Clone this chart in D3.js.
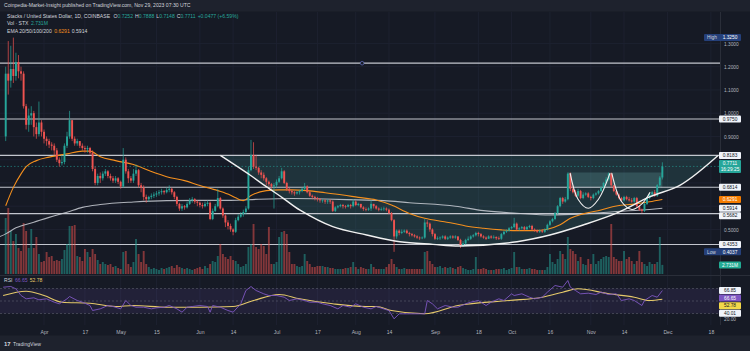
<!DOCTYPE html>
<html>
<head>
<meta charset="utf-8">
<script src="https://cdn.jsdelivr.net/npm/d3@7"></script>
<style>
  html, body { margin: 0; padding: 0; background: #161a25; }
  svg { display: block; font-family: "Liberation Sans", Arial, sans-serif; }
</style>
</head>
<body>
<svg id="chart" width="750" height="351"></svg>
<script>
// STX/USD daily, COINBASE — values.

const START = Date.UTC(2023, 2, 17);   // first visible candle
const DAY = 86400000;
const firstOpen = 0.90;

const closes = [
  1.17, 1.14, 1.19, 1.16, 1.22, 1.18, 1.17, 1.03, 0.95, 0.99,
  1.00, 0.94, 0.91, 0.96, 0.92, 0.89, 0.88, 0.865, 0.86, 0.84,
  0.80, 0.785, 0.79, 0.86, 0.90, 0.97, 0.89, 0.87, 0.88, 0.86,
  0.85, 0.845, 0.85, 0.83, 0.76, 0.70, 0.73, 0.72, 0.74, 0.75,
  0.73, 0.72, 0.71, 0.72, 0.705, 0.685, 0.80, 0.75, 0.72, 0.71,
  0.74, 0.755, 0.69, 0.68, 0.64, 0.63, 0.64, 0.645, 0.65, 0.655,
  0.66, 0.665, 0.66, 0.67, 0.675, 0.66, 0.64, 0.61, 0.59, 0.60,
  0.595, 0.61, 0.625, 0.63, 0.62, 0.615, 0.605, 0.60, 0.61, 0.615,
  0.545, 0.58, 0.60, 0.635, 0.59, 0.56, 0.53, 0.515, 0.50, 0.49,
  0.54, 0.555, 0.565, 0.575, 0.59, 0.755, 0.82, 0.77, 0.765, 0.745,
  0.735, 0.72, 0.705, 0.695, 0.685, 0.69, 0.705, 0.72, 0.75, 0.70,
  0.675, 0.665, 0.66, 0.655, 0.66, 0.665, 0.675, 0.685, 0.66, 0.645,
  0.64, 0.635, 0.63, 0.625, 0.625, 0.62, 0.625, 0.62, 0.58, 0.595,
  0.60, 0.605, 0.60, 0.598, 0.605, 0.60, 0.62, 0.605, 0.61, 0.595,
  0.588, 0.585, 0.59, 0.61, 0.60, 0.59, 0.585, 0.588, 0.59, 0.585,
  0.57, 0.54, 0.47, 0.495, 0.485, 0.49, 0.495, 0.485, 0.48, 0.475,
  0.47, 0.465, 0.462, 0.465, 0.53, 0.525, 0.50, 0.48, 0.46, 0.462,
  0.465, 0.47, 0.46, 0.465, 0.47, 0.465, 0.47, 0.455, 0.43, 0.44,
  0.455, 0.46, 0.47, 0.475, 0.485, 0.48, 0.47, 0.465, 0.46, 0.47,
  0.465, 0.468, 0.462, 0.46, 0.48, 0.49, 0.495, 0.505, 0.51, 0.525,
  0.50, 0.505, 0.51, 0.50, 0.51, 0.515, 0.50, 0.495, 0.49, 0.495,
  0.49, 0.50, 0.52, 0.535, 0.545, 0.57, 0.60, 0.635, 0.62, 0.63,
  0.74, 0.675, 0.66, 0.645, 0.665, 0.635, 0.65, 0.655, 0.64, 0.635,
  0.65, 0.655, 0.665, 0.68, 0.70, 0.715, 0.74, 0.69, 0.665, 0.65,
  0.635, 0.625, 0.64, 0.63, 0.625, 0.62, 0.635, 0.60, 0.585, 0.58,
  0.61, 0.635, 0.65, 0.66, 0.645, 0.69, 0.7234, 0.7711
];

const highs = [
  1.20, 1.31, 1.29, 1.325, 1.26, 1.25, 1.20, 1.18, 1.04, 1.02,
  1.03, 1.01, 0.96, 1.05, 0.97, 0.93, 0.90, 0.89, 0.875, 0.87,
  0.85, 0.81, 0.82, 0.87, 0.92, 1.01, 0.97, 0.90, 0.89, 0.88,
  0.87, 0.86, 0.86, 0.855, 0.84, 0.77, 0.74, 0.745, 0.75, 0.76,
  0.755, 0.74, 0.73, 0.73, 0.725, 0.71, 0.85, 0.81, 0.76, 0.73,
  0.76, 0.78, 0.76, 0.70, 0.69, 0.65, 0.645, 0.655, 0.66, 0.665,
  0.67, 0.675, 0.67, 0.68, 0.69, 0.68, 0.665, 0.645, 0.615, 0.61,
  0.605, 0.62, 0.635, 0.64, 0.635, 0.625, 0.62, 0.615, 0.62, 0.625,
  0.62, 0.59, 0.61, 0.675, 0.64, 0.595, 0.565, 0.54, 0.525, 0.505,
  0.55, 0.565, 0.575, 0.585, 0.60, 0.77, 0.885, 0.875, 0.82, 0.77,
  0.755, 0.745, 0.725, 0.71, 0.70, 0.70, 0.715, 0.73, 0.765, 0.755,
  0.705, 0.68, 0.67, 0.665, 0.665, 0.67, 0.68, 0.70, 0.69, 0.665,
  0.65, 0.645, 0.64, 0.635, 0.63, 0.63, 0.63, 0.63, 0.625, 0.60,
  0.605, 0.61, 0.61, 0.605, 0.61, 0.61, 0.63, 0.625, 0.615, 0.61,
  0.60, 0.595, 0.595, 0.625, 0.61, 0.605, 0.595, 0.595, 0.598, 0.595,
  0.59, 0.575, 0.545, 0.50, 0.50, 0.50, 0.50, 0.50, 0.49, 0.485,
  0.48, 0.475, 0.47, 0.47, 0.545, 0.54, 0.53, 0.505, 0.485, 0.47,
  0.47, 0.475, 0.475, 0.47, 0.475, 0.475, 0.475, 0.47, 0.46, 0.45,
  0.46, 0.47, 0.475, 0.48, 0.49, 0.49, 0.485, 0.475, 0.47, 0.475,
  0.475, 0.475, 0.47, 0.47, 0.485, 0.495, 0.50, 0.51, 0.515, 0.55,
  0.53, 0.51, 0.515, 0.515, 0.515, 0.52, 0.52, 0.505, 0.50, 0.50,
  0.50, 0.505, 0.525, 0.54, 0.55, 0.575, 0.605, 0.64, 0.64, 0.64,
  0.745, 0.745, 0.69, 0.67, 0.675, 0.67, 0.66, 0.66, 0.66, 0.645,
  0.655, 0.66, 0.67, 0.685, 0.705, 0.725, 0.745, 0.745, 0.69, 0.67,
  0.655, 0.64, 0.645, 0.645, 0.64, 0.635, 0.64, 0.64, 0.605, 0.59,
  0.615, 0.64, 0.655, 0.665, 0.67, 0.695, 0.73, 0.7888
];

const lows = [
  0.88, 1.08, 1.11, 1.13, 1.14, 1.15, 1.14, 1.02, 0.93, 0.92,
  0.95, 0.90, 0.89, 0.90, 0.90, 0.87, 0.86, 0.85, 0.84, 0.82,
  0.79, 0.77, 0.775, 0.78, 0.85, 0.89, 0.88, 0.86, 0.86, 0.85,
  0.84, 0.83, 0.83, 0.82, 0.75, 0.69, 0.69, 0.70, 0.71, 0.73,
  0.72, 0.71, 0.70, 0.70, 0.695, 0.675, 0.68, 0.74, 0.70, 0.70,
  0.70, 0.73, 0.68, 0.66, 0.625, 0.615, 0.62, 0.63, 0.635, 0.64,
  0.645, 0.65, 0.65, 0.655, 0.66, 0.65, 0.63, 0.60, 0.58, 0.58,
  0.585, 0.59, 0.605, 0.615, 0.61, 0.60, 0.595, 0.59, 0.595, 0.60,
  0.54, 0.54, 0.575, 0.595, 0.585, 0.55, 0.51, 0.50, 0.49, 0.475,
  0.485, 0.535, 0.55, 0.555, 0.565, 0.585, 0.75, 0.76, 0.755, 0.735,
  0.72, 0.71, 0.69, 0.685, 0.675, 0.59, 0.68, 0.70, 0.715, 0.695,
  0.665, 0.655, 0.65, 0.645, 0.65, 0.65, 0.66, 0.67, 0.655, 0.64,
  0.63, 0.625, 0.62, 0.615, 0.615, 0.61, 0.61, 0.61, 0.575, 0.575,
  0.59, 0.595, 0.59, 0.59, 0.595, 0.59, 0.595, 0.60, 0.60, 0.59,
  0.58, 0.578, 0.58, 0.58, 0.59, 0.585, 0.578, 0.58, 0.58, 0.578,
  0.565, 0.535, 0.4037, 0.46, 0.475, 0.48, 0.485, 0.48, 0.47, 0.47,
  0.465, 0.46, 0.455, 0.458, 0.46, 0.51, 0.49, 0.47, 0.455, 0.455,
  0.455, 0.46, 0.455, 0.455, 0.46, 0.46, 0.46, 0.45, 0.42, 0.425,
  0.435, 0.45, 0.455, 0.465, 0.47, 0.47, 0.465, 0.46, 0.455, 0.46,
  0.46, 0.46, 0.455, 0.455, 0.455, 0.475, 0.485, 0.49, 0.50, 0.505,
  0.495, 0.495, 0.50, 0.495, 0.50, 0.505, 0.495, 0.49, 0.485, 0.485,
  0.485, 0.485, 0.495, 0.515, 0.53, 0.54, 0.565, 0.595, 0.61, 0.615,
  0.625, 0.665, 0.655, 0.64, 0.64, 0.63, 0.63, 0.645, 0.635, 0.625,
  0.63, 0.645, 0.65, 0.66, 0.675, 0.695, 0.71, 0.68, 0.66, 0.645,
  0.63, 0.62, 0.62, 0.625, 0.62, 0.615, 0.615, 0.595, 0.58, 0.57,
  0.575, 0.605, 0.63, 0.645, 0.64, 0.64, 0.68, 0.7148
];

// volume, millions of STX
const volumes = [
  16.8, 19.8, 12.9, 9.9, 12.0, 7.8, 6.9, 15.3, 12.9, 7.8,
  13.5, 7.8, 11.1, 6.0, 3.6, 3.9, 6.6, 5.1, 5.4, 3.9,
  4.2, 3.9, 4.5, 7.2, 9.0, 14.4, 14.4, 14.7, 5.4, 5.1,
  3.9, 7.5, 6.6, 5.1, 7.5, 6.0, 4.2, 3.0, 3.6, 3.0,
  2.7, 3.0, 2.1, 2.4, 1.8, 1.5, 6.6, 6.9, 3.0, 2.1,
  3.6, 10.5, 6.0, 3.6, 6.9, 3.0, 2.1, 1.5, 1.8, 1.5,
  1.2, 1.8, 1.5, 1.8, 2.1, 2.4, 1.8, 2.7, 2.1, 1.8,
  1.5, 1.8, 1.5, 1.2, 1.5, 1.8, 2.1, 1.5, 2.4, 1.8,
  3.0, 3.9, 3.6, 5.4, 9.0, 6.0, 5.1, 4.5, 5.4, 4.2,
  3.9, 3.0, 2.1, 2.4, 3.0, 8.1, 9.0, 15.0, 8.1, 7.5,
  9.0, 8.4, 6.0, 14.1, 3.0, 3.0, 3.6, 11.1, 12.6, 12.9,
  12.0, 6.6, 3.0, 3.0, 2.4, 2.1, 2.4, 6.0, 3.9, 3.0,
  2.1, 2.1, 2.4, 2.4, 2.4, 2.1, 2.1, 1.8, 1.8, 1.5,
  1.5, 1.5, 1.5, 1.8, 1.8, 2.1, 3.6, 2.1, 1.5, 2.1,
  1.8, 1.5, 1.5, 3.0, 2.1, 1.5, 1.5, 1.5, 1.5, 2.1,
  3.0, 4.5, 3.0, 2.1, 1.5, 1.5, 1.8, 1.5, 1.5, 1.5,
  1.5, 1.5, 1.5, 1.5, 6.6, 6.9, 3.9, 3.0, 2.1, 2.1,
  2.4, 1.8, 2.1, 1.8, 2.1, 1.8, 1.5, 2.1, 2.4, 1.8,
  1.5, 1.2, 1.2, 1.5, 5.1, 1.5, 1.5, 1.8, 1.5, 1.2,
  1.2, 1.2, 1.5, 1.5, 1.5, 1.8, 1.2, 1.5, 1.8, 6.6,
  2.1, 2.1, 1.5, 1.5, 1.5, 1.8, 1.5, 1.5, 1.2, 1.2,
  1.2, 1.2, 2.1, 6.0, 3.6, 3.0, 4.5, 6.9, 6.0, 4.5,
  11.1, 7.5, 6.9, 6.0, 3.9, 5.1, 3.0, 2.7, 4.5, 3.0,
  6.0, 3.0, 3.9, 4.5, 5.1, 5.4, 5.1, 15.0, 5.1, 4.5,
  3.9, 3.9, 6.9, 4.5, 5.1, 3.9, 3.0, 3.9, 6.9, 3.6,
  3.0, 2.4, 3.6, 3.0, 3.0, 3.6, 11.1, 2.731
];

// EMA lines (day index from START, price)
const ema50Days = [0, 3, 6, 8, 12, 17, 24, 30, 33, 37, 43, 50, 57, 63, 70, 76, 83, 88, 90, 93, 96, 102, 107, 112, 118, 125, 132, 138, 145, 151, 158, 164, 171, 175, 180, 187, 194, 200, 207, 212, 217, 221, 226, 233, 239, 246, 252, 257];
const ema50Vals = [0.602, 0.681, 0.739, 0.770, 0.796, 0.811, 0.825, 0.837, 0.837, 0.813, 0.796, 0.779, 0.749, 0.727, 0.710, 0.689, 0.667, 0.647, 0.636, 0.624, 0.646, 0.667, 0.670, 0.670, 0.667, 0.658, 0.648, 0.638, 0.627, 0.605, 0.569, 0.548, 0.534, 0.527, 0.515, 0.505, 0.498, 0.495, 0.495, 0.501, 0.520, 0.548, 0.567, 0.584, 0.601, 0.609, 0.619, 0.629];
const ema200Days = [-3, 0, 4, 11, 17, 24, 30, 37, 50, 63, 76, 88, 99, 112, 125, 138, 148, 158, 176, 187, 200, 213, 226, 239, 252, 257];
const ema200Vals = [0.466, 0.481, 0.507, 0.531, 0.552, 0.574, 0.595, 0.607, 0.618, 0.624, 0.625, 0.625, 0.630, 0.633, 0.631, 0.627, 0.624, 0.615, 0.600, 0.581, 0.570, 0.562, 0.567, 0.577, 0.586, 0.591];

// RSI(14) and its moving average
const rsiDays = [-1, 2, 4, 6, 8, 11, 13, 16, 19, 21, 24, 25, 28, 30, 33, 34, 37, 40, 42, 45, 47, 49, 51, 54, 57, 59, 62, 64, 67, 69, 71, 73, 76, 79, 80, 81, 84, 87, 89, 92, 94, 96, 98, 101, 103, 106, 109, 111, 114, 117, 119, 122, 124, 127, 130, 132, 135, 137, 140, 143, 145, 150, 152, 154, 158, 162, 164, 165, 167, 169, 172, 175, 177, 180, 182, 185, 188, 190, 193, 195, 198, 199, 202, 205, 207, 210, 212, 215, 218, 220, 221, 223, 225, 228, 231, 233, 236, 239, 241, 244, 246, 249, 250, 253, 255, 257];
const rsiVals = [72.1, 73.2, 69.5, 58.8, 53.5, 55.1, 51.9, 53.5, 48.1, 45.5, 53.5, 57.2, 50.8, 48.1, 42.8, 34.8, 37.5, 42.8, 41.2, 37.5, 50.8, 42.8, 40.1, 40.1, 37.5, 39.1, 40.1, 42.8, 37.5, 32.1, 40.1, 41.2, 42.8, 41.2, 32.1, 42.8, 40.1, 34.8, 32.1, 45.5, 66.8, 73.2, 66.8, 61.5, 58.8, 58.8, 56.1, 50.8, 53.5, 50.8, 48.1, 48.1, 45.5, 42.8, 37.5, 42.8, 40.1, 45.5, 40.1, 37.5, 41.2, 34.8, 21.5, 29.5, 29.5, 29.5, 29.5, 50.8, 45.5, 37.5, 42.8, 40.1, 40.1, 45.5, 48.1, 50.8, 42.8, 48.1, 53.5, 50.8, 61.5, 58.8, 61.5, 56.1, 53.5, 56.1, 64.1, 74.8, 72.1, 82.8, 72.1, 66.8, 61.5, 62.5, 60.4, 64.1, 60.4, 61.5, 50.8, 53.5, 50.8, 42.8, 50.8, 58.8, 56.1, 66.65];
const rsiMaDays = [-1, 8, 15, 22, 33, 43, 50, 63, 76, 89, 97, 107, 115, 128, 141, 145, 151, 164, 177, 197, 210, 218, 224, 236, 246, 252, 257];
const rsiMaVals = [58.8, 65.7, 58.8, 48.1, 46.4, 41.2, 42.8, 40.1, 40.1, 41.2, 50.8, 60.4, 53.5, 45.5, 41.2, 41.2, 34.8, 29.5, 42.8, 50.8, 56.1, 64.1, 69.5, 61.5, 56.1, 50.8, 52.78];

// drawings
const hLevels = [1.215, 0.975, 0.8183, 0.6814, 0.5682, 0.4353];
const anchorDay = 139.5;                // handle dot on the upper level
const cupDays = [84, 95.6, 102, 108.5, 115.2, 128, 141.3, 154.3, 167.2, 177.8, 200.1, 213, 226, 239.3, 252.2, 264, 278.8];
const cupVals = [0.8183, 0.734, 0.684, 0.635, 0.583, 0.512, 0.476, 0.447, 0.436, 0.429, 0.447, 0.476, 0.519, 0.571, 0.641, 0.691, 0.8183];
const hsBox = { d0: 220, d1: 257, top: 0.745, bottom: 0.68 };
const leftArcDays = [220.9, 224, 228, 232, 236.5];
const leftArcVals = [0.742, 0.63, 0.591, 0.63, 0.742];
const rightArcDays = [237.2, 241, 245.1, 249, 252.2];
const rightArcVals = [0.742, 0.62, 0.586, 0.61, 0.66];

const priceTicks = [1.3, 1.2, 1.1, 1.0, 0.9, 0.8, 0.7, 0.6, 0.5];
const dateTicks = [[3, 1], [3, 17], [4, 1], [4, 15], [5, 1], [5, 14], [6, 1], [6, 17], [7, 1], [7, 14], [8, 1], [8, 18], [9, 1], [9, 16], [10, 1], [10, 14], [11, 1], [11, 18]];
const monthNames = ['Jan', 'Feb', 'Mar', 'Apr', 'May', 'Jun', 'Jul', 'Aug', 'Sep', 'Oct', 'Nov', 'Dec'];

// ---------------------------------------------------------------------------
const W = 750, H = 351;
const PANE_R = 720;
const MAIN = { top: 12, bottom: 275 };
const RSI = { top: 277, bottom: 325 };
const UP = '#26a69a', DOWN = '#ef5350';
const BG = '#161a25';
const FS = 5.1;

const dayDate = d => new Date(START + d * DAY);
const x = d3.scaleUtc().domain([dayDate(0), dayDate(276)]).range([5.7, 710.9]);
const y = d3.scaleLinear().domain([0.4353, 0.975]).range([244.5, 119.0]);
const yVol = d3.scaleLinear().domain([0, 20]).range([274, 207.3]);
const yRsi = d3.scaleLinear().domain([30, 70]).range([313.5, 288.5]);

const candles = closes.map((c, i) => ({
  date: dayDate(i),
  open: i ? closes[i - 1] : firstOpen,
  high: highs[i], low: lows[i], close: c, vol: volumes[i]
}));

const svg = d3.select('#chart');
svg.append('rect').attr('width', W).attr('height', H).attr('fill', BG);

const defs = svg.append('defs');
defs.append('clipPath').attr('id', 'clipMain')
  .append('rect').attr('x', 0).attr('y', MAIN.top).attr('width', PANE_R).attr('height', MAIN.bottom - MAIN.top);
defs.append('clipPath').attr('id', 'clipRsi')
  .append('rect').attr('x', 0).attr('y', RSI.top).attr('width', PANE_R).attr('height', RSI.bottom - RSI.top);

// grid
const gridDates = dateTicks.map(([m, d]) => new Date(Date.UTC(2023, m, d)));
svg.append('g').selectAll('line').data(gridDates).join('line')
  .attr('x1', d => x(d)).attr('x2', d => x(d))
  .attr('y1', MAIN.top).attr('y2', RSI.bottom)
  .attr('stroke', '#1d2130').attr('stroke-width', 1);
svg.append('g').selectAll('line').data(priceTicks).join('line')
  .attr('x1', 0).attr('x2', PANE_R)
  .attr('y1', d => y(d)).attr('y2', d => y(d))
  .attr('stroke', '#1d2130').attr('stroke-width', 1);

const main = svg.append('g').attr('clip-path', 'url(#clipMain)');

// shaded region above the cup, under the 0.8183 level
const cupPts = cupDays.map((d, i) => [x(dayDate(d)), y(cupVals[i])]);
const cupLine = d3.line().curve(d3.curveCatmullRom.alpha(0.5));
main.append('path')
  .attr('d', cupLine(cupPts) + `L${cupPts[0][0]},${y(0.8183)}Z`)
  .attr('fill', 'rgba(64,140,140,0.22)');
main.append('rect')
  .attr('x', x(dayDate(hsBox.d0))).attr('width', x(dayDate(hsBox.d1)) - x(dayDate(hsBox.d0)))
  .attr('y', y(hsBox.top)).attr('height', y(hsBox.bottom) - y(hsBox.top))
  .attr('fill', 'rgba(120,190,185,0.22)');

// horizontal levels
main.append('g').selectAll('line').data(hLevels).join('line')
  .attr('x1', 0).attr('x2', PANE_R)
  .attr('y1', d => y(d)).attr('y2', d => y(d))
  .attr('stroke', '#c3c6ce').attr('stroke-width', 1.2);
main.append('circle')
  .attr('cx', x(dayDate(anchorDay))).attr('cy', y(hLevels[0])).attr('r', 1.8)
  .attr('fill', BG).attr('stroke', '#5d6ab0').attr('stroke-width', 0.8);

// current price line
main.append('line')
  .attr('x1', 0).attr('x2', PANE_R)
  .attr('y1', y(0.7711)).attr('y2', y(0.7711))
  .attr('stroke', UP).attr('stroke-opacity', 0.7).attr('stroke-width', 0.8)
  .attr('stroke-dasharray', '1.5,2');

// volume
main.append('g').selectAll('rect').data(candles).join('rect')
  .attr('x', d => x(d.date) - 0.95).attr('width', 1.9)
  .attr('y', d => yVol(d.vol)).attr('height', d => yVol(0) - yVol(d.vol))
  .attr('fill', d => d.close >= d.open ? UP : DOWN).attr('fill-opacity', 0.5);

// EMAs
const emaLine = d3.line().curve(d3.curveMonotoneX);
main.append('path')
  .attr('d', emaLine(ema200Days.map((d, i) => [x(dayDate(d)), y(ema200Vals[i])])))
  .attr('fill', 'none').attr('stroke', '#c9ccd4').attr('stroke-opacity', 0.85).attr('stroke-width', 1.1);
main.append('path')
  .attr('d', emaLine(ema50Days.map((d, i) => [x(dayDate(d)), y(ema50Vals[i])])))
  .attr('fill', 'none').attr('stroke', '#f5901e').attr('stroke-width', 1.1);

// candles
const cg = main.append('g');
cg.selectAll('line').data(candles).join('line')
  .attr('x1', d => x(d.date)).attr('x2', d => x(d.date))
  .attr('y1', d => y(d.high)).attr('y2', d => y(d.low))
  .attr('stroke', d => d.close >= d.open ? UP : DOWN).attr('stroke-width', 0.7);
cg.selectAll('rect').data(candles).join('rect')
  .attr('x', d => x(d.date) - 0.95).attr('width', 1.9)
  .attr('y', d => y(Math.max(d.open, d.close)))
  .attr('height', d => Math.max(0.7, Math.abs(y(d.open) - y(d.close))))
  .attr('fill', d => d.close >= d.open ? UP : DOWN);

// pattern drawings
main.append('path').attr('d', cupLine(cupPts))
  .attr('fill', 'none').attr('stroke', '#f0f0f0').attr('stroke-width', 1.4);
const arcLine = d3.line().curve(d3.curveCatmullRom.alpha(0.5));
main.append('path')
  .attr('d', arcLine(leftArcDays.map((d, i) => [x(dayDate(d)), y(leftArcVals[i])])))
  .attr('fill', 'none').attr('stroke', '#f0f0f0').attr('stroke-width', 1.1);
main.append('path')
  .attr('d', arcLine(rightArcDays.map((d, i) => [x(dayDate(d)), y(rightArcVals[i])])))
  .attr('fill', 'none').attr('stroke', '#f0f0f0').attr('stroke-width', 1.1);

// RSI pane
svg.append('line').attr('x1', 0).attr('x2', W).attr('y1', MAIN.bottom + 0.5).attr('y2', MAIN.bottom + 0.5)
  .attr('stroke', '#2a2e39').attr('stroke-width', 1);
const rsiG = svg.append('g').attr('clip-path', 'url(#clipRsi)');
rsiG.append('rect').attr('x', 0).attr('width', PANE_R)
  .attr('y', yRsi(70)).attr('height', yRsi(30) - yRsi(70))
  .attr('fill', 'rgba(126,87,194,0.12)');
rsiG.selectAll('line.band').data([70, 50, 30]).join('line').attr('class', 'band')
  .attr('x1', 0).attr('x2', PANE_R).attr('y1', d => yRsi(d)).attr('y2', d => yRsi(d))
  .attr('stroke', '#787b86').attr('stroke-opacity', 0.6).attr('stroke-width', 0.7)
  .attr('stroke-dasharray', '2,2');
rsiG.append('path')
  .attr('d', d3.line().curve(d3.curveMonotoneX)(rsiMaDays.map((d, i) => [x(dayDate(d)), yRsi(rsiMaVals[i])])))
  .attr('fill', 'none').attr('stroke', '#e5c96a').attr('stroke-width', 1.1);
rsiG.append('path')
  .attr('d', d3.line()(rsiDays.map((d, i) => [x(dayDate(d)), yRsi(rsiVals[i])])))
  .attr('fill', 'none').attr('stroke', '#7e57c2').attr('stroke-width', 0.9);

// time axis
const xAxis = d3.axisBottom(x).tickValues(gridDates).tickSize(0)
  .tickFormat(d => d.getUTCDate() === 1 ? monthNames[d.getUTCMonth()] : String(d.getUTCDate()));
const gx = svg.append('g').attr('transform', `translate(0,${RSI.bottom + 1})`).call(xAxis);
gx.select('.domain').remove();
gx.selectAll('text').attr('fill', '#b2b5be').attr('font-size', FS).attr('dy', '0.9em');

// scale labels (boxed) — TradingView shifts stacked labels so they do not overlap
function place(items, gap) {
  items.sort((a, b) => a.y - b.y);
  for (let i = 1; i < items.length; i++) {
    const need = items[i - 1].y + (items[i - 1].h + items[i].h) / 2 + gap;
    if (items[i].y < need) items[i].y = need;
  }
  return items;
}
const priceLabels = place([
  { y: y(0.975), h: 7, text: '0.9750', bg: '#f0f3fa', fg: '#131722' },
  { y: y(0.8183), h: 7, text: '0.8183', bg: '#f0f3fa', fg: '#131722' },
  { y: y(0.7711), h: 13, text: ['0.7711', '16:29:25'], bg: UP, fg: '#ffffff' },
  { y: y(0.6814), h: 7, text: '0.6814', bg: '#f0f3fa', fg: '#131722' },
  { y: y(0.6291), h: 7, text: '0.6291', bg: '#f57c00', fg: '#ffffff' },
  { y: y(0.5914), h: 7, text: '0.5914', bg: '#f0f3fa', fg: '#131722' },
  { y: y(0.5682), h: 7, text: '0.5682', bg: '#f0f3fa', fg: '#131722' },
  { y: y(0.4353), h: 7, text: '0.4353', bg: '#f0f3fa', fg: '#131722' }
], 0.6);

// price axis: ticks fully covered by a label box are hidden, as on the original
const coverBoxes = priceLabels.concat([{ y: y(1.325), h: 7 }, { y: y(0.4037), h: 7 }]);
const shownTicks = priceTicks.filter(t => !coverBoxes.some(b => Math.abs(b.y - y(t)) < b.h / 2 + 1.5));
const yAxis = d3.axisRight(y).tickValues(shownTicks).tickSize(0).tickFormat(d3.format('.4f'));
const gy = svg.append('g').attr('transform', `translate(${PANE_R + 2},0)`).call(yAxis);
gy.select('.domain').remove();
gy.selectAll('text').attr('fill', '#b2b5be').attr('font-size', 4.8).attr('x', 2).attr('dy', '0.35em');
svg.append('line').attr('x1', PANE_R + 0.5).attr('x2', PANE_R + 0.5).attr('y1', MAIN.top).attr('y2', RSI.bottom)
  .attr('stroke', '#2a2e39');
svg.append('text').attr('x', PANE_R + 4).attr('y', yRsi(20)).attr('dy', '0.35em')
  .attr('fill', '#b2b5be').attr('font-size', 4.8).text('20.00');

const labels = svg.append('g').attr('font-size', 4.8);
function box(yc, text, bg, fg, h = 7) {
  const w = 22, x0 = PANE_R - 1;
  const g = labels.append('g');
  g.append('rect').attr('x', x0).attr('y', yc - h / 2).attr('width', w).attr('height', h)
    .attr('rx', 1).attr('fill', bg);
  const lines = [].concat(text);
  lines.forEach((t, i) => {
    g.append('text').attr('x', x0 + w / 2).attr('y', yc - (lines.length - 1) * 3 + i * 6)
      .attr('dy', '0.35em').attr('text-anchor', 'middle').attr('fill', fg).text(t);
  });
}
function extremeBox(price, name) {
  const g = labels.append('g');
  g.append('rect').attr('x', 704).attr('y', y(price) - 3.5).attr('width', 37).attr('height', 7).attr('rx', 1).attr('fill', '#25407a');
  g.append('text').attr('x', 707).attr('y', y(price)).attr('dy', '0.35em').attr('fill', '#d1d4dc').text(name);
  g.append('text').attr('x', 730).attr('y', y(price)).attr('dy', '0.35em').attr('text-anchor', 'middle')
    .attr('fill', '#ffffff').text(d3.format('.4f')(price));
}
extremeBox(1.325, 'High');
priceLabels.forEach(l => box(l.y, l.text, l.bg, l.fg, l.h));
extremeBox(0.4037, 'Low');
box(yVol(volumes[volumes.length - 1]), '2.731M', '#22ab94', '#ffffff');

const rsiLabels = place([
  { y: yRsi(66.85), h: 7, text: '66.85', bg: '#f0f3fa', fg: '#131722' },
  { y: yRsi(66.65), h: 7, text: '66.65', bg: '#7e57c2', fg: '#ffffff' },
  { y: yRsi(52.78), h: 7, text: '52.78', bg: '#f2d84b', fg: '#131722' },
  { y: yRsi(40.01), h: 7, text: '40.01', bg: '#f0f3fa', fg: '#131722' }
], 0.6);
rsiLabels.forEach(l => box(l.y, l.text, l.bg, l.fg, l.h));

// legends
const lg = svg.append('g').attr('font-size', FS).attr('fill', '#d1d4dc');
const l1 = lg.append('text').attr('x', 7).attr('y', 17.5);
l1.append('tspan').text('Stacks / United States Dollar, 1D, COINBASE ');
[['O', '0.7252'], ['H', '0.7888'], ['L', '0.7148'], ['C', '0.7711']].forEach(([k, v]) => {
  l1.append('tspan').attr('dx', 2).text(k);
  l1.append('tspan').attr('fill', UP).text(v);
});
l1.append('tspan').attr('dx', 2).attr('fill', UP).text('+0.0477 (+6.59%)');
const l2 = lg.append('text').attr('x', 7).attr('y', 25);
l2.append('tspan').text('Vol · STX ');
l2.append('tspan').attr('dx', 1).attr('fill', UP).text('2.731M');
const l3 = lg.append('text').attr('x', 7).attr('y', 32.5);
l3.append('tspan').text('EMA 20/50/100/200 ');
l3.append('tspan').attr('dx', 1).attr('fill', '#f5901e').text('0.6291');
l3.append('tspan').attr('dx', 2).attr('fill', '#d1d4dc').text('0.5914');
const l4 = lg.append('text').attr('x', 4).attr('y', 282);
l4.append('tspan').text('RSI ');
l4.append('tspan').attr('dx', 1).attr('fill', '#7e57c2').text('66.65');
l4.append('tspan').attr('dx', 2).attr('fill', '#e5c96a').text('52.78');

// publisher bar + footer
svg.append('rect').attr('x', 0).attr('y', 0).attr('width', W).attr('height', 11.5).attr('fill', '#1e222d');
svg.append('text').attr('x', 4).attr('y', 7.3).attr('font-size', FS).attr('fill', '#d1d4dc')
  .text('Coinpedia-Market-Insight published on TradingView.com, Nov 29, 2023 07:30 UTC');
svg.append('rect').attr('x', 0).attr('y', 335.5).attr('width', W).attr('height', H - 335.5).attr('fill', '#1e222d');
const ft = svg.append('g').attr('fill', '#d1d4dc');
ft.append('text').attr('x', 4).attr('y', 345.5).attr('font-size', 6).attr('font-weight', 'bold').text('17');
ft.append('text').attr('x', 13).attr('y', 345.5).attr('font-size', FS).text('TradingView');
</script>
</body>
</html>
